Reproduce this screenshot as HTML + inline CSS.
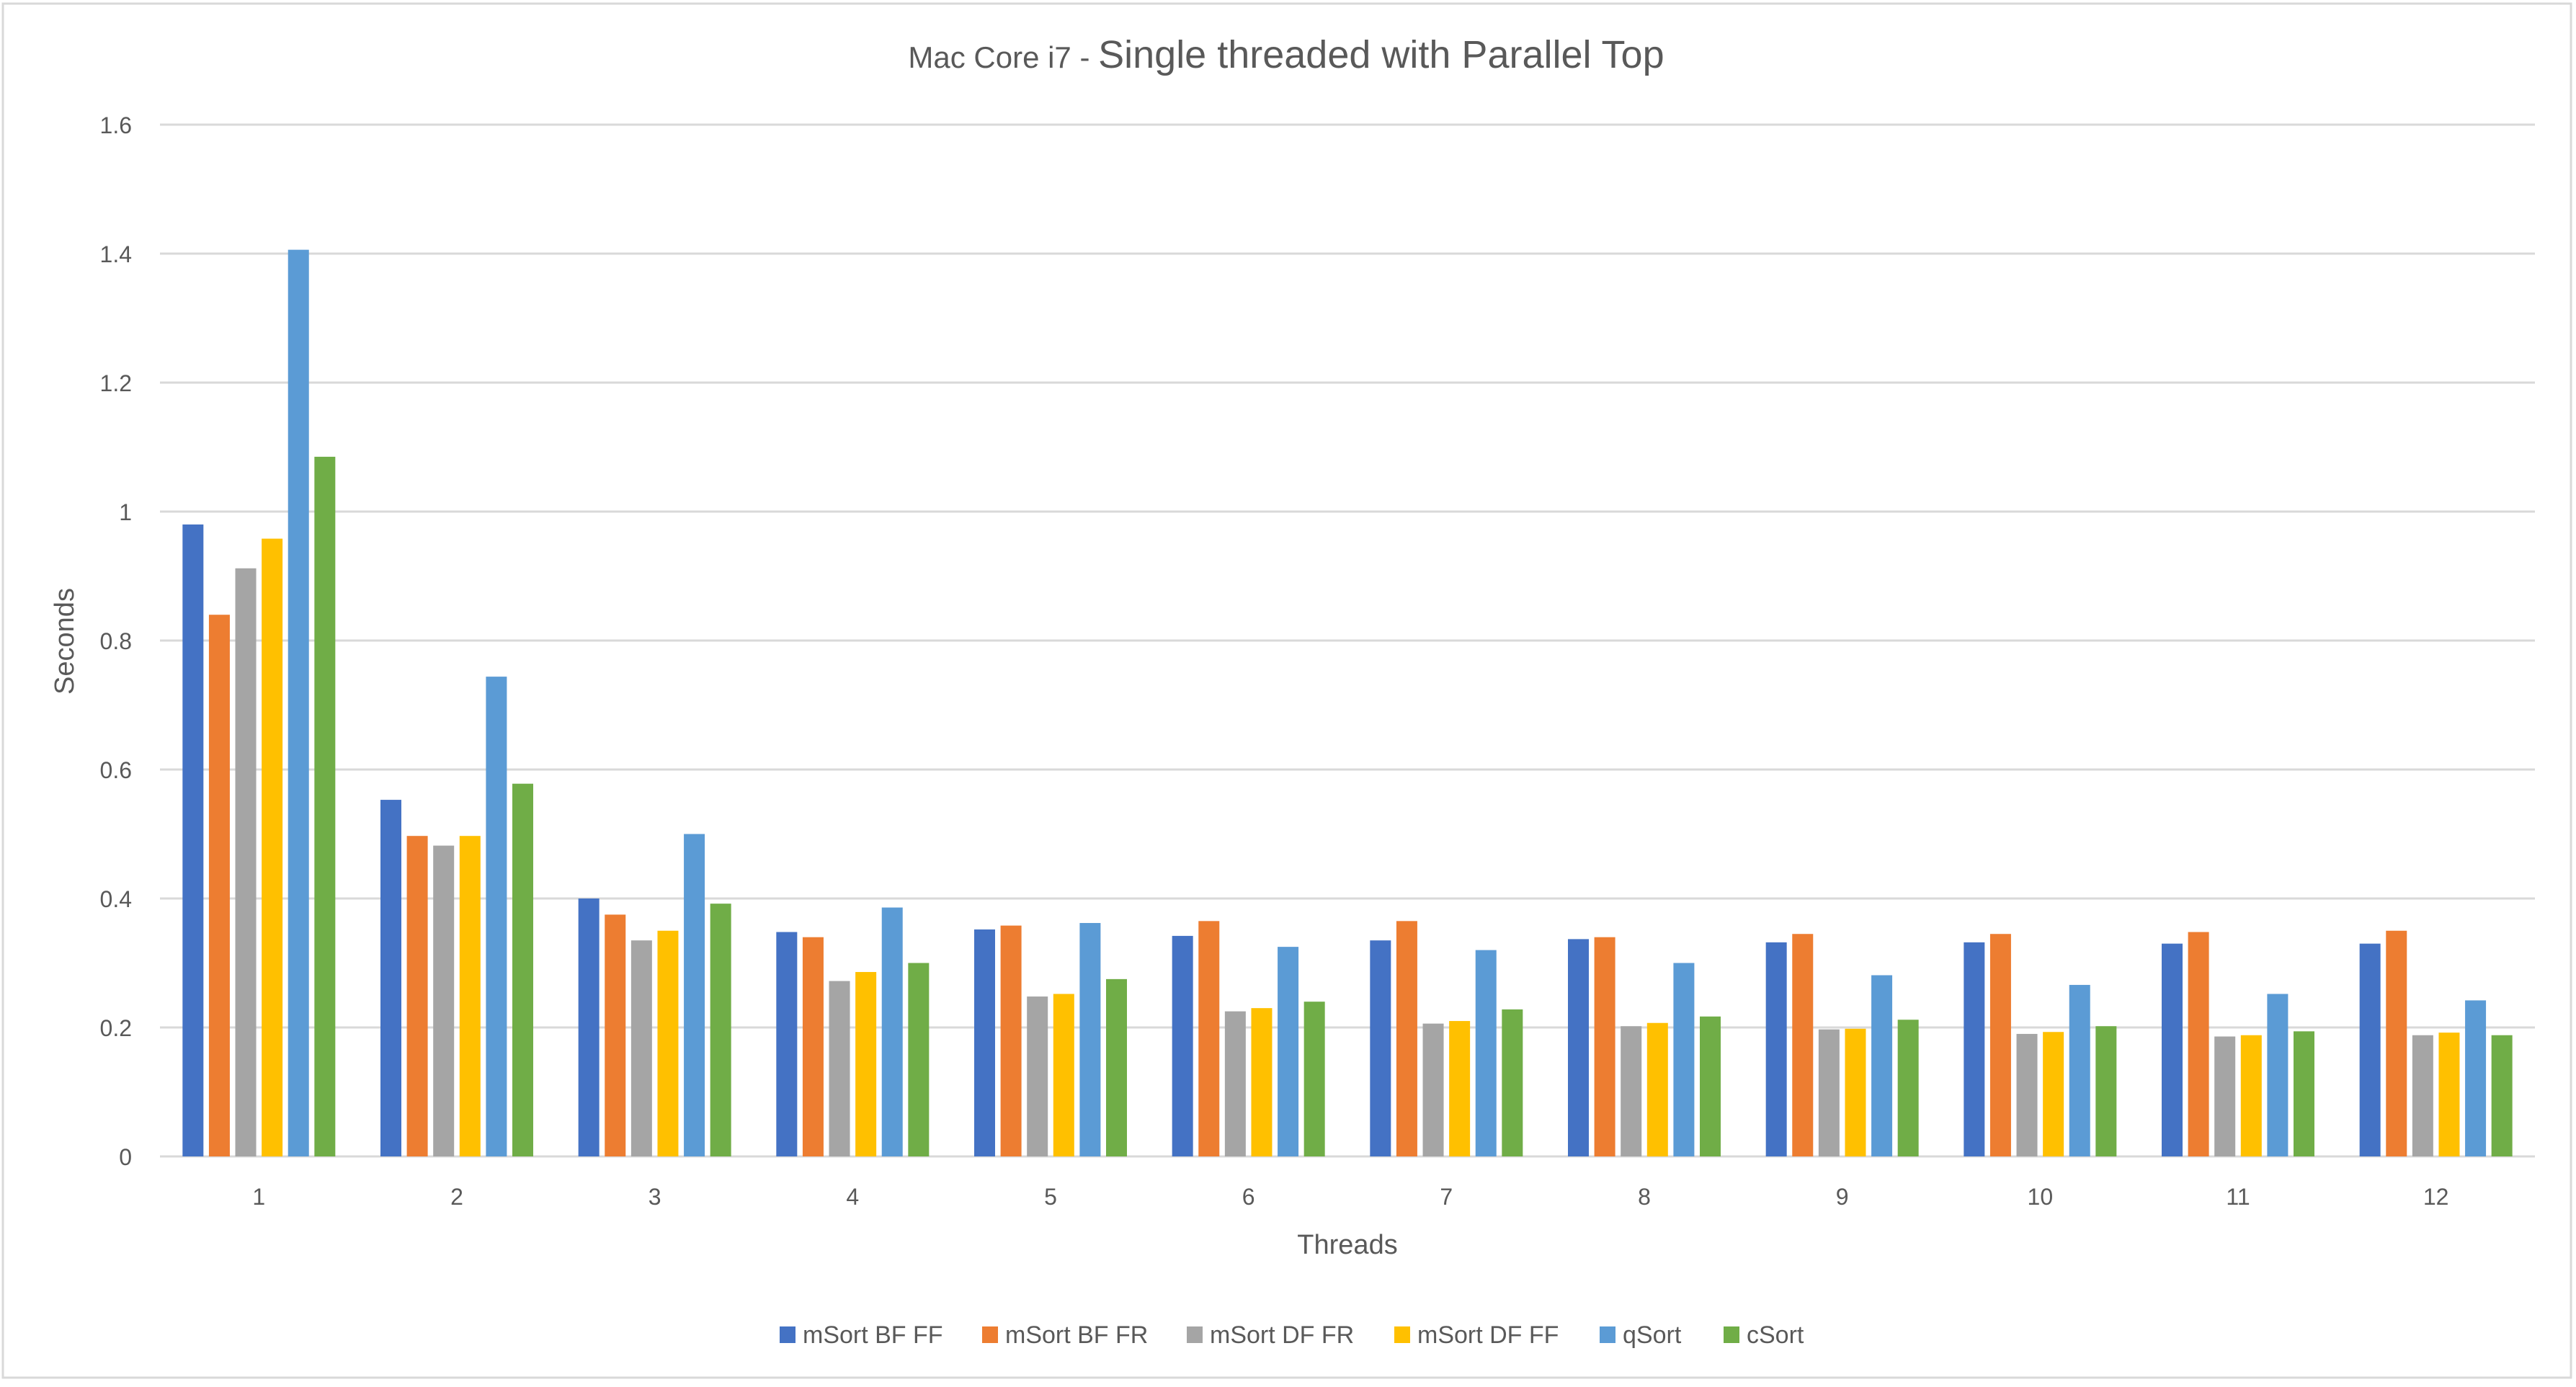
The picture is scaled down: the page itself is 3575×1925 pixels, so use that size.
<!DOCTYPE html>
<html><head><meta charset="utf-8"><style>
html,body{margin:0;padding:0;background:#fff;}
svg{display:block;font-family:"Liberation Sans",sans-serif;}
</style></head><body>
<svg id="chart" width="3575" height="1925" viewBox="0 0 3575 1925" xmlns="http://www.w3.org/2000/svg">
<rect x="4" y="5" width="3564" height="1907" fill="#fff" stroke="#d9d9d9" stroke-width="3"/>
<text x="1785" y="94" text-anchor="middle" fill="#595959"><tspan font-size="42">Mac Core i7 - </tspan><tspan font-size="54">Single threaded with Parallel Top</tspan></text>
<g id="grid"></g>
<g id="bars"></g>
<g id="xlabels"></g>
<text x="1870" y="1740" text-anchor="middle" font-size="38" fill="#595959">Threads</text>
<text transform="translate(102,890) rotate(-90)" text-anchor="middle" font-size="38" fill="#595959">Seconds</text>
<g id="legend"></g>
</svg>
<script>
const categories = ["1","2","3","4","5","6","7","8","9","10","11","12"];
const seriesNames = ["mSort BF FF","mSort BF FR","mSort DF FR","mSort DF FF","qSort","cSort"];
const mSortBFFF = [0.98,0.553,0.40,0.348,0.352,0.342,0.335,0.337,0.332,0.332,0.33,0.33];
const mSortBFFR = [0.84,0.497,0.375,0.34,0.358,0.365,0.365,0.34,0.345,0.345,0.348,0.35];
const mSortDFFR = [0.912,0.482,0.335,0.272,0.248,0.225,0.206,0.202,0.197,0.19,0.186,0.188];
const mSortDFFF = [0.958,0.497,0.35,0.286,0.252,0.23,0.21,0.207,0.198,0.193,0.188,0.192];
const qSort = [1.406,0.744,0.50,0.386,0.362,0.325,0.32,0.30,0.281,0.266,0.252,0.242];
const cSort = [1.085,0.578,0.392,0.30,0.275,0.24,0.228,0.217,0.212,0.202,0.194,0.188];
const yTicks = [0,0.2,0.4,0.6,0.8,1,1.2,1.4,1.6];
const yTickLabels = ["0","0.2","0.4","0.6","0.8","1","1.2","1.4","1.6"];

const series = [mSortBFFF,mSortBFFR,mSortDFFR,mSortDFFF,qSort,cSort];
const colors = ["#4472C4","#ED7D31","#A5A5A5","#FFC000","#5B9BD5","#70AD47"];
const NS = "http://www.w3.org/2000/svg";
const plotL = 222, plotR = 3518, y0 = 1605, yTop = 173, yMax = 1.6;
const catW = (plotR - plotL) / categories.length;
const barW = 29, barPitch = 36.6;
function yScale(v){ return y0 - (v / yMax) * (y0 - yTop); }
function xCenter(i){ return plotL + catW * (i + 0.5); }
function mk(tag, attrs, parent){ const e = document.createElementNS(NS, tag); for (const k in attrs) e.setAttribute(k, attrs[k]); parent.appendChild(e); return e; }

const grid = document.getElementById('grid');
yTicks.forEach((t, i) => {
  const y = yScale(t);
  const l = mk('line', {x1: plotL, x2: plotR, y1: y, y2: y, stroke: '#d9d9d9', 'stroke-width': 3}, grid);
  
  
  const tx = mk('text', {x: 183, y: y + 12, 'text-anchor': 'end', 'font-size': 32, fill: '#595959'}, grid);
  tx.textContent = yTickLabels[i];
  
  
});

const bars = document.getElementById('bars');
const groupW = barPitch * 5 + barW;
series.forEach((vals, s) => {
  vals.forEach((v, i) => {
    const x = xCenter(i) - groupW / 2 + s * barPitch;
    const y = yScale(v);
    const r = mk('rect', {x: x, y: y, width: barW, height: y0 - y, fill: colors[s]}, bars);
    
    
  });
});

const xl = document.getElementById('xlabels');
categories.forEach((c, i) => {
  const t = mk('text', {x: xCenter(i), y: 1672, 'text-anchor': 'middle', 'font-size': 32, fill: '#595959'}, xl);
  t.textContent = c;
  
  
});

const lg = document.getElementById('legend');
const legX = [1082, 1363, 1647, 1935, 2220, 2392];
seriesNames.forEach((n, s) => {
  const g = mk('g', {}, lg);
  
  
  mk('rect', {x: legX[s], y: 1841, width: 22, height: 23, fill: colors[s]}, g);
  const t = mk('text', {x: legX[s] + 32, y: 1864, 'font-size': 34, fill: '#595959'}, g);
  t.textContent = n;
});
</script>
</body></html>
